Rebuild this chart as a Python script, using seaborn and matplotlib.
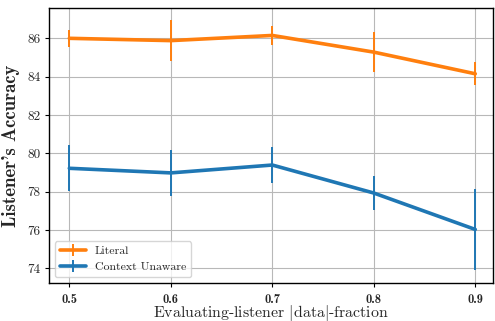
import matplotlib
matplotlib.use("Agg")
import matplotlib.pyplot as plt
import seaborn as sns
import pandas as pd

fractions = [0.5, 0.6, 0.7, 0.8, 0.9]
tick_labels = ["0.5", "0.6", "0.7", "0.8", "0.9"]

literal_mean = [86.0, 85.88, 86.15, 85.28, 84.15]
literal_err = [0.45, 1.05, 0.50, 1.04, 0.60]

unaware_mean = [79.22, 78.98, 79.39, 77.93, 76.03]
unaware_err = [1.20, 1.22, 0.92, 0.88, 2.09]

sns.set_style("whitegrid", {
    "axes.edgecolor": "black",
    "grid.color": "#b8b8b8",
    "xtick.bottom": True,
    "ytick.left": True,
})
plt.rcParams["font.family"] = ["serif"]
plt.rcParams["font.serif"] = ["cmr10", "DejaVu Serif"]
plt.rcParams["mathtext.fontset"] = "cm"
plt.rcParams["axes.formatter.use_mathtext"] = True

df = pd.DataFrame({
    "fraction": fractions * 2,
    "acc": literal_mean + unaware_mean,
    "err": literal_err + unaware_err,
    "model": ["Literal"] * 5 + ["Context Unaware"] * 5,
})

palette = {"Literal": "#ff7f0e", "Context Unaware": "#1f77b4"}

fig, ax = plt.subplots(figsize=(4.95, 3.21), dpi=100)

for name in ["Literal", "Context Unaware"]:
    sub = df[df["model"] == name]
    ax.errorbar(sub["fraction"], sub["acc"], yerr=sub["err"], fmt="-",
                color=palette[name], lw=2.6, elinewidth=1.4, label=name)

ax.set_xlim(0.48, 0.9175)
ax.set_ylim(73.23, 87.58)
ax.set_xticks(fractions)
ax.set_xticklabels(tick_labels, fontsize=9, fontfamily="cmb10")
ax.set_yticks([74, 76, 78, 80, 82, 84, 86])
ax.set_yticklabels(["74", "76", "78", "80", "82", "84", "86"], fontsize=9.5)
ax.tick_params(axis="both", length=3, width=0.8, color="black", pad=3)
ax.tick_params(axis="x", pad=4.5)
for s in ax.spines.values():
    s.set_linewidth(1.0)
    s.set_color("black")

ax.set_xlabel("Evaluating-listener $|$data$|$-fraction", fontsize=11.4)
ax.xaxis.set_label_coords(0.5, -0.074)
ax.set_ylabel("Listener's Accuracy", fontsize=13.5, fontfamily="cmb10",
              labelpad=5)

ax.legend(loc="lower left", fontsize=8.5, frameon=True, framealpha=0.8,
          edgecolor="#cccccc", handlelength=2.2)

fig.subplots_adjust(left=0.099, right=0.996, top=0.975, bottom=0.118)
fig.savefig("out.png", dpi=100)
